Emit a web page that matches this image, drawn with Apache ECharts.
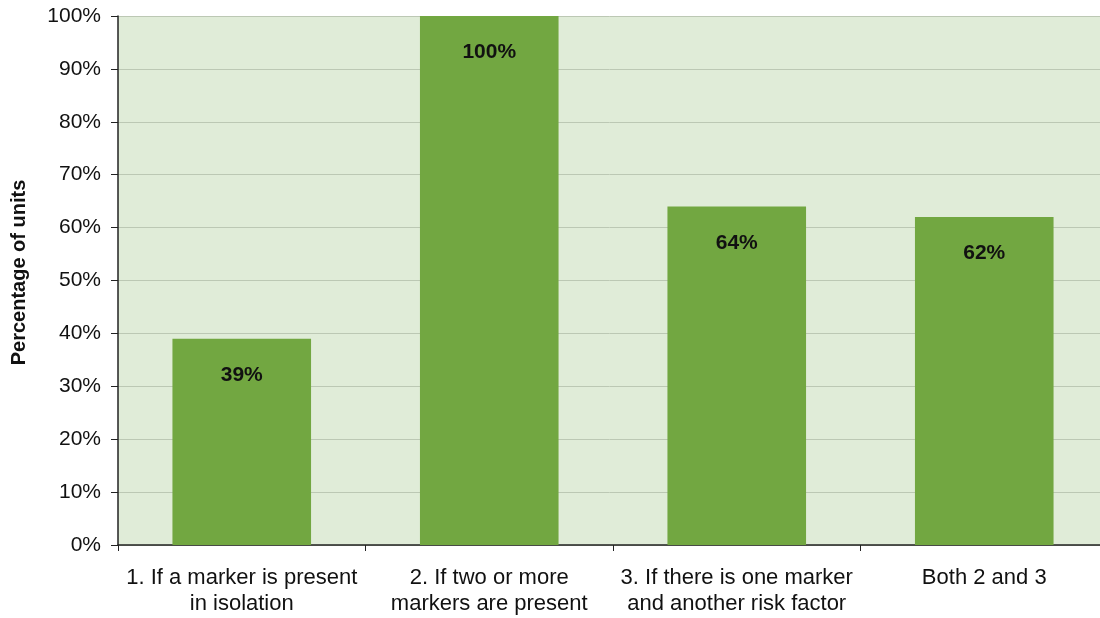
<!DOCTYPE html>
<html><head><meta charset="utf-8">
<script src="https://cdn.jsdelivr.net/npm/echarts@6/dist/echarts.min.js"></script>
<style>html,body{margin:0;padding:0;background:#fff}#c{width:1100px;height:618px}</style>
</head><body><div id="c"></div>
<script>
var categories = ["1. If a marker is present\nin isolation", "2. If two or more\nmarkers are present", "3. If there is one marker\nand another risk factor", "Both 2 and 3"];
var values = [39, 100, 64, 62];
var yTicks = [0, 10, 20, 30, 40, 50, 60, 70, 80, 90, 100];
var yName = "Percentage of units";

var F = 'Liberation Sans, Arial, sans-serif';
var chart = echarts.init(document.getElementById('c'), null, {renderer: 'canvas'});
chart.setOption({
  animation: false,
  grid: {left: 118, top: 16, width: 990, height: 529, outerBoundsMode: 'none', containLabel: false, show: true, backgroundColor: '#E0ECD8', borderWidth: 0},
  xAxis: {
    type: 'category', data: categories,
    axisLine: {lineStyle: {color: '#222', width: 1.5}},
    axisTick: {show: true, interval: 0, length: 6, lineStyle: {color: '#222'}},
    axisLabel: {interval: 0, fontFamily: F, fontSize: 22, color: '#111', lineHeight: 26, margin: 20}
  },
  yAxis: {
    type: 'value', min: yTicks[0], max: yTicks[yTicks.length - 1], interval: 10,
    name: yName, nameLocation: 'middle', nameGap: 89, nameRotate: 90,
    nameTextStyle: {fontFamily: F, fontSize: 20, fontWeight: 'bold', color: '#111', padding: [0, 0, 0, 16]},
    axisLine: {show: true, lineStyle: {color: '#222', width: 1.5}},
    axisTick: {show: true, length: 7, lineStyle: {color: '#222'}},
    splitLine: {show: true, lineStyle: {color: '#BCC8B4', width: 1}},
    axisLabel: {formatter: '{value}%', fontFamily: F, fontSize: 21, color: '#111', margin: 17}
  },
  series: [{
    type: 'bar', data: values, barWidth: '56%',
    itemStyle: {color: '#72A741'},
    label: {show: true, position: 'insideTop', distance: 26, formatter: '{c}%', fontFamily: F, fontSize: 21, fontWeight: 'bold', color: '#111'}
  }]
});
</script></body></html>
